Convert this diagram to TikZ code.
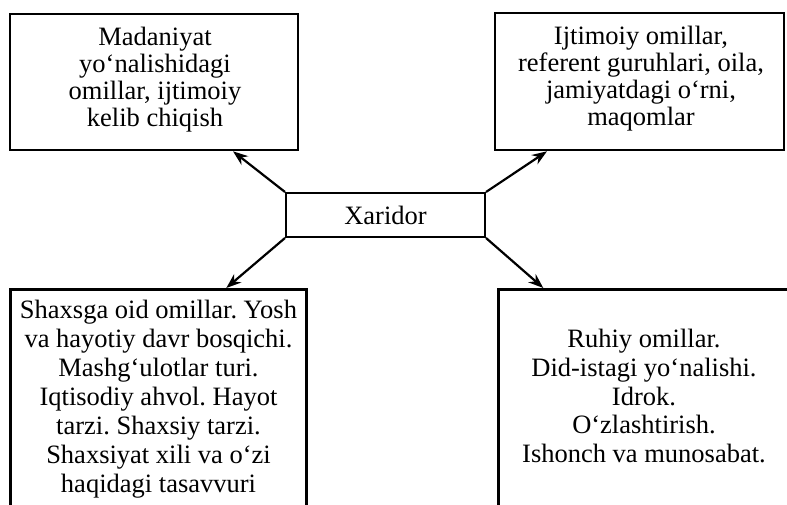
\documentclass[tikz,border=0pt]{standalone}
\usepackage{fontspec}
\setmainfont{Liberation Serif}
\frenchspacing
\usetikzlibrary{arrows.meta,calc}
\begin{document}
\begin{tikzpicture}[x=1pt,y=-1pt,
  box/.style={draw,line width=2.6pt,inner sep=0pt},
  txt/.style={align=center,inner sep=0pt,font=\fontsize{26.5}{27}\selectfont},
  txtb/.style={align=center,inner sep=0pt,font=\fontsize{26.5}{28.9}\selectfont},
  arr/.style={line width=2.2pt,-{Stealth[length=15pt,width=11pt]}}]
\clip (0,0) rectangle (787,505);
\node[box,minimum width=288,minimum height=136] (tl) at (154,82) {};
\node[txt] (tltxt) at (155,80) {Madaniyat\\yo‘nalishidagi\\omillar, ijtimoiy\\kelib chiqish};
\node[box,minimum width=289,minimum height=137] (tr) at (639.5,81.5) {};
\node[txt] (trtxt) at (641,79) {Ijtimoiy omillar,\\referent guruhlari, oila,\\jamiyatdagi o‘rni,\\maqomlar};
\node[box,line width=2pt,minimum width=199,minimum height=44] (x) at (385.5,215) {};
\node[txt] (xtxt) at (385.5,215) {Xaridor};
\node[box,minimum width=296,minimum height=250,anchor=north west] (bl) at (9,288) {};
\node[txtb] (bltxt) at (158.5,399) {Shaxsga oid omillar. Yosh\\va hayotiy davr bosqichi.\\Mashg‘ulotlar turi.\\Iqtisodiy ahvol. Hayot\\tarzi. Shaxsiy tarzi.\\Shaxsiyat xili va o‘zi\\haqidagi tasavvuri};
\node[box,minimum width=310,minimum height=250,anchor=north west] (br) at (497,288) {};
\node[txtb] (brtxt) at (644,396) {Ruhiy omillar.\\Did-istagi yo‘nalishi.\\Idrok.\\O‘zlashtirish.\\Ishonch va munosabat.};
\draw[arr] (x.north west) -- ([xshift=79pt]tl.south);
\draw[arr] (x.north east) -- ([xshift=-92.5pt]tr.south);
\draw[arr] (x.south west) -- ([xshift=68pt]bl.north);
\draw[arr] (x.south east) -- ([xshift=-110pt]br.north);
\end{tikzpicture}
\end{document}
